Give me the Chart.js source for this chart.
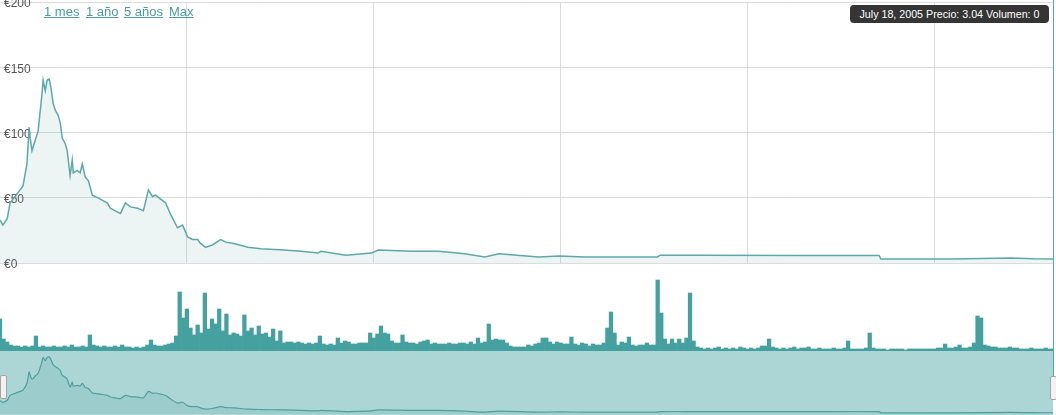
<!DOCTYPE html>
<html>
<head>
<meta charset="utf-8">
<script src="https://cdn.jsdelivr.net/npm/chart.js@4.4.1/dist/chart.umd.min.js"></script>
<style>
  body { margin: 0; background: #fff; font-family: "Liberation Sans", Arial, sans-serif; }
  #wrap { position: relative; width: 1056px; height: 415px; overflow: hidden; }
  canvas { position: absolute; }
  #price { left: -8px; top: 0; }
  #volume { left: 0; top: 266px; }
  #nav { left: 0; top: 351px; }
  .range { position: absolute; top: 4px; font-size: 13px; line-height: 15px; color: #4b9e9e; text-decoration: underline; }
  #tip { position: absolute; left: 850px; top: 5px; width: 199px; height: 18px; background: #353535; border-radius: 4px;
         color: #fff; font-size: 10.7px; line-height: 18px; text-align: center; white-space: nowrap; }
  #cursor { position: absolute; left: 1053px; top: 0; width: 1px; height: 376px; background: #5aa5a5; }
  .handle { position: absolute; width: 5px; height: 22px; background: #f2f2f2; border: 1px solid #a5a5a5; border-radius: 2px; }
</style>
</head>
<body>
<div id="wrap">
  <canvas id="price" width="1064" height="280"></canvas>
  <canvas id="volume" width="1056" height="85"></canvas>
  <canvas id="nav" width="1056" height="64"></canvas>
  <div id="links"></div>
  <div id="cursor"></div>
  <div class="handle" style="left:0;top:375px;"></div>
  <div class="handle" style="left:1050px;top:376px;"></div>
  <div id="tip"></div>
</div>
<script>
// weeks since start of the series
const priceWeeks = [0, 0.8, 2, 2.8, 3.9, 5.6, 6.4, 7.5, 8.1, 8.4, 8.9, 9.8, 10.6, 11.7, 12, 12.6, 13.1, 13.7,
  14.2, 14.8, 15.4, 16.2, 16.8, 17.3, 18.2, 18.7, 19.5, 20.1, 20.4, 21.5, 22.3, 22.9, 23.7, 24.6, 25.7, 26.5,
  27.9, 29.9, 30.7, 32.1, 33.5, 34.9, 36.3, 38.3, 39.9, 41.3, 42.4, 43.3, 44.7, 46.1, 47.5, 49.4, 50.8, 52.2,
  53.6, 55, 55.8, 57.2, 59.2, 61.4, 62.8, 65.1, 69, 72.6, 79, 83.8, 88.5, 89.3, 96.3, 103.3, 105.3, 114.5,
  122, 129.3, 134.9, 138.8, 149.9, 155.5, 162.8, 172.3, 182.9, 183.7, 195.4, 223.4, 244.6, 245.1, 265.2,
  281.2, 287.6, 293];
const priceValues = [33, 29, 34, 46, 50, 56, 59, 76, 104, 96, 86, 94, 101, 130, 140, 132, 140, 141,
  134, 122, 117, 113, 107, 96, 91, 86, 67, 79, 69, 71, 69, 76, 66, 63, 52, 51,
  49, 46, 42, 40, 38, 46, 43, 42, 40, 56, 51, 52, 49, 46, 37, 27, 29, 20,
  18, 18, 15, 12, 14, 18, 16, 15, 12, 11, 10, 9, 7.6, 9, 6, 7.6, 10, 9,
  9, 7, 4.6, 7, 4.6, 5.3, 4.6, 4.6, 4.6, 6, 6, 5.8, 5.8, 3, 3,
  3.8, 3.2, 3.04];
// weekly volume, one value per week
const volumeValues = [
  32, 12, 9, 6, 5, 5, 4, 5, 4, 5,
  15, 4, 5, 4, 4, 5, 4, 4, 5, 4,
  6, 4, 4, 5, 4, 16, 6, 5, 4, 5,
  4, 4, 5, 4, 6, 4, 4, 3, 4, 3,
  4, 6, 11, 6, 5, 5, 6, 7, 8, 15,
  59, 33, 42, 23, 16, 26, 18, 58, 22, 32,
  27, 42, 20, 37, 16, 18, 17, 15, 36, 20,
  23, 16, 25, 17, 18, 14, 22, 10, 20, 8,
  9, 9, 8, 9, 8, 7, 8, 7, 8, 15,
  7, 6, 7, 6, 13, 8, 10, 9, 7, 7,
  8, 8, 8, 18, 13, 17, 25, 18, 17, 10,
  8, 8, 16, 9, 8, 8, 7, 9, 10, 11,
  7, 8, 7, 7, 7, 8, 7, 7, 8, 8,
  7, 9, 7, 13, 8, 9, 27, 11, 12, 11,
  11, 8, 5, 4, 4, 4, 4, 6, 5, 7,
  8, 13, 13, 9, 7, 9, 8, 7, 7, 14,
  7, 6, 8, 7, 5, 7, 6, 6, 8, 23,
  39, 18, 6, 9, 8, 14, 6, 5, 6, 6,
  8, 6, 6, 71, 38, 12, 7, 12, 8, 12,
  8, 13, 58, 10, 4, 3, 2, 3, 2, 3,
  4, 2, 3, 2, 3, 2, 4, 3, 2, 3,
  2, 3, 5, 5, 12, 4, 3, 2, 3, 2,
  3, 4, 2, 3, 3, 4, 2, 2, 3, 2,
  2, 2, 3, 2, 2, 3, 10, 2, 2, 2,
  2, 3, 18, 3, 2, 2, 2, 1, 2, 2,
  2, 2, 1, 2, 2, 2, 2, 2, 2, 2,
  2, 3, 3, 7, 3, 3, 4, 6, 3, 3,
  4, 8, 35, 33, 6, 5, 4, 4, 3, 3,
  3, 4, 3, 3, 2, 2, 2, 3, 2, 2,
  2, 3, 2, 2];
const priceTicks = [0, 50, 100, 150, 200];
const rangeLabels = ["1 mes", "1 año", "5 años", "Max"];
const rangeLeft = [44, 86, 124, 169];
const lastDate = "July 18, 2005";
const lastPrice = 3.04;
const lastVolume = 0;

const TEAL = "#5fa8a8";
const WEEKS = 293;

const pricePoints = priceWeeks.map((w, i) => ({ x: w, y: priceValues[i] }));

rangeLabels.forEach((t, i) => {
  const s = document.createElement("span");
  s.className = "range";
  s.style.left = rangeLeft[i] + "px";
  s.textContent = t;
  document.getElementById("links").appendChild(s);
});
document.getElementById("tip").textContent =
  lastDate + " Precio: " + lastPrice.toFixed(2) + " Volumen: " + lastVolume;

const xYears = {
  type: "linear", min: 0, max: WEEKS, offset: false,
  ticks: { display: false, stepSize: 52 },
  grid: {
    drawTicks: false, offset: false,
    color: ctx => (ctx.tick && ctx.tick.value > 0 && ctx.tick.value % 52 === 0) ? "#dcdcdc" : "rgba(0,0,0,0)"
  },
  border: { display: false }
};

new Chart(document.getElementById("price"), {
  type: "line",
  data: {
    datasets: [{
      data: pricePoints,
      borderColor: TEAL, borderWidth: 1.5,
      backgroundColor: "rgba(95,168,168,0.12)", fill: "origin",
      pointRadius: 0, tension: 0
    }]
  },
  options: {
    responsive: false, animation: false,
    layout: { padding: { top: 2, right: 3, bottom: 17, left: 0 } },
    plugins: { legend: { display: false }, tooltip: { enabled: false } },
    scales: {
      x: xYears,
      y: {
        min: 0, max: 200,
        afterBuildTicks: s => { s.ticks = priceTicks.map(v => ({ value: v })); },
        afterFit: s => { s.paddingTop = 0; s.paddingBottom = 0; },
        ticks: {
          mirror: true, padding: 4, labelOffset: 2,
          color: "#555", font: { family: "'Liberation Sans', Arial", size: 12 },
          callback: v => "€" + v
        },
        grid: { drawTicks: false, color: "#dcdcdc" },
        border: { display: false }
      }
    }
  }
});

new Chart(document.getElementById("volume"), {
  type: "bar",
  data: {
    datasets: [{
      data: volumeValues.map((v, i) => ({ x: i, y: v })),
      backgroundColor: "#45a0a0", borderWidth: 0,
      barPercentage: 1, categoryPercentage: 1
    }]
  },
  options: {
    responsive: false, animation: false,
    layout: { padding: { top: 0, right: 3, bottom: 0, left: 0 } },
    plugins: { legend: { display: false }, tooltip: { enabled: false } },
    scales: {
      x: { type: "linear", min: 0, max: WEEKS, offset: false, display: false },
      y: { min: 0, max: 85, display: false }
    }
  }
});

const navBackground = {
  id: "navBackground",
  beforeDraw(chart) {
    const { ctx, chartArea: a } = chart;
    ctx.save();
    ctx.fillStyle = "#acd5d5";
    ctx.fillRect(a.left, a.top, a.right - a.left, a.bottom - a.top);
    ctx.restore();
  }
};

new Chart(document.getElementById("nav"), {
  type: "line",
  data: {
    datasets: [{
      data: pricePoints,
      borderColor: "#4f9f9f", borderWidth: 1.2,
      backgroundColor: "rgba(60,145,145,0.13)", fill: "origin",
      pointRadius: 0, tension: 0.3
    }]
  },
  options: {
    responsive: false, animation: false,
    layout: { padding: { top: 0, right: 3, bottom: 0, left: 0 } },
    plugins: { legend: { display: false }, tooltip: { enabled: false } },
    scales: {
      x: { type: "linear", min: 0, max: WEEKS, display: false },
      y: { min: -2.5, max: 156, display: false }
    }
  },
  plugins: [navBackground]
});
</script>
</body>
</html>
